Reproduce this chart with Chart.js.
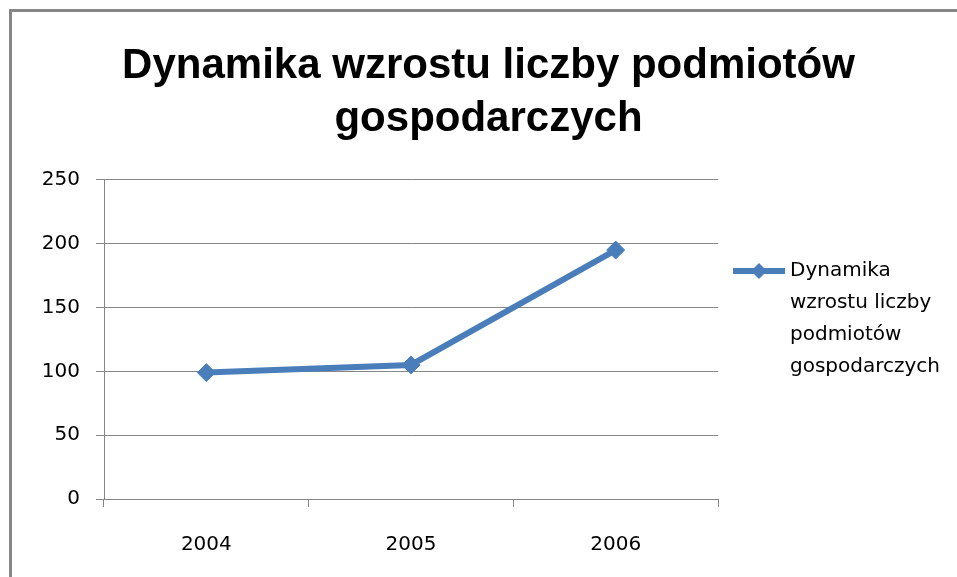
<!DOCTYPE html>
<html lang="pl">
<head>
  <meta charset="UTF-8" />
  <title>Dynamika wzrostu liczby podmiotów gospodarczych</title>
  <script src="https://cdn.jsdelivr.net/npm/chart.js"></script>
  <style>
    html, body { margin: 0; padding: 0; background: #fff; overflow: hidden; }
    .wrap { position: relative; width: 957px; height: 577px; }
    .frame {
      position: absolute; left: 9px; top: 9px; width: 980px; height: 600px;
      border-left: 3px solid #868686; border-top: 3px solid #868686;
      pointer-events: none;
    }
    canvas { position: absolute; left: 0; top: 0; }
  </style>
</head>
<body>
  <div class="wrap">
    <canvas id="chart" width="957" height="577"></canvas>
    <div class="frame"></div>
  </div>

  <script>
    // dane
    const titleLines = ['Dynamika wzrostu liczby podmiotów', 'gospodarczych'];
    const years = ['2004', '2005', '2006'];
    const seriesName = 'Dynamika wzrostu liczby podmiotów gospodarczych';
    const legendLines = ['Dynamika', 'wzrostu liczby', 'podmiotów', 'gospodarczych'];
    const values = [99, 105, 195];
    const yTicks = [0, 50, 100, 150, 200, 250];

    const blue = '#4a7ebb';
    const gridColor = '#868686';
    const tickFont = { family: '"DejaVu Sans", sans-serif', size: 20 };

    // legenda po prawej, w miejscu zarezerwowanym przez pustą oś
    const sideLegend = {
      id: 'sideLegend',
      afterDraw(chart) {
        const ctx = chart.ctx;
        const x0 = chart.chartArea.right + 15;
        const y0 = 271;
        ctx.save();
        ctx.strokeStyle = blue;
        ctx.lineWidth = 6;
        ctx.beginPath();
        ctx.moveTo(x0, y0);
        ctx.lineTo(x0 + 52, y0);
        ctx.stroke();
        ctx.fillStyle = blue;
        ctx.beginPath();
        ctx.moveTo(x0 + 26, y0 - 8);
        ctx.lineTo(x0 + 34, y0);
        ctx.lineTo(x0 + 26, y0 + 8);
        ctx.lineTo(x0 + 18, y0);
        ctx.closePath();
        ctx.fill();
        ctx.fillStyle = '#000';
        ctx.font = '20px "DejaVu Sans", sans-serif';
        ctx.textBaseline = 'middle';
        ctx.textAlign = 'left';
        legendLines.forEach((line, i) => ctx.fillText(line, x0 + 57, y0 + i * 32));
        ctx.restore();
      }
    };

    new Chart(document.getElementById('chart'), {
      type: 'line',
      data: {
        labels: years,
        datasets: [{
          label: seriesName,
          data: values,
          borderColor: blue,
          backgroundColor: blue,
          borderWidth: 6,
          pointStyle: 'rectRot',
          pointRadius: 9,
          pointHoverRadius: 9,
          pointBorderWidth: 1,
          tension: 0
        }]
      },
      options: {
        responsive: false,
        animation: false,
        layout: { padding: { left: 20, right: 0, top: 0, bottom: 0 } },
        plugins: {
          legend: { display: false },
          tooltip: { enabled: false },
          title: {
            display: true,
            text: titleLines,
            color: '#000',
            font: { family: '"Liberation Sans", Arial, sans-serif', size: 42, weight: 'bold', lineHeight: 1.26 },
            padding: { top: 40, bottom: 34 }
          }
        },
        scales: {
          x: {
            offset: true,
            grid: { display: true, drawOnChartArea: false, drawTicks: true, tickLength: 8, offset: true, color: gridColor },
            border: { display: true, color: gridColor, width: 1 },
            ticks: { color: '#000', font: tickFont, padding: 26 },
            afterFit(scale) { scale.height = 78; }
          },
          y: {
            min: 0,
            max: 250,
            afterBuildTicks(scale) { scale.ticks = yTicks.map(v => ({ value: v })); },
            grid: { color: gridColor, tickLength: 8 },
            border: { display: true, color: gridColor, width: 1 },
            ticks: { color: '#000', font: tickFont, padding: 16 },
            afterFit(scale) { scale.width = 84; }
          },
          side: {
            position: 'right',
            display: true,
            grid: { display: false },
            border: { display: false },
            ticks: { display: false },
            afterFit(scale) { scale.width = 239; }
          }
        }
      },
      plugins: [sideLegend]
    });
  </script>
</body>
</html>
